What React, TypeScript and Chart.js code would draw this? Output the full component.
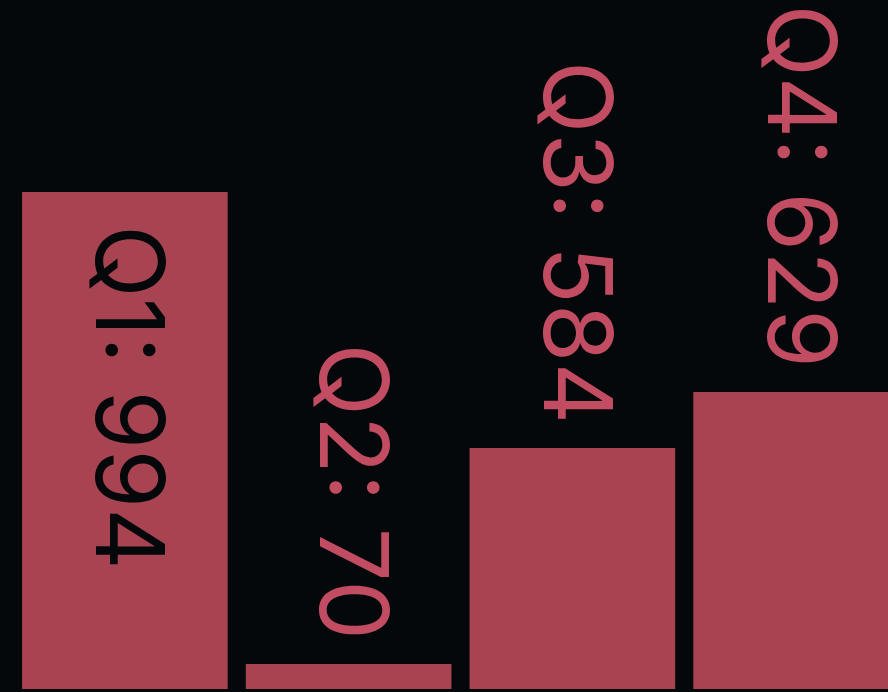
import React, { useEffect, useRef } from "react";
import { Chart, registerables } from "chart.js";

Chart.register(...registerables);

const categories = ["Q1", "Q2", "Q3", "Q4"];
// bar heights as drawn in the picture (same units as the Q1 value)
const barValues = [994, 50, 482, 594];
// values printed in the data labels
const labelValues = [994, 70, 584, 629];
const yMax = 1378;

const BG = "#04080b";
const BAR = "#a84452";
const LABEL_OUT = "#c24d63";
const LABEL_IN = "#04080b";
const FONT = "95px Inter, 'Liberation Sans', sans-serif";

const labelPlugin = {
  id: "rotLabels",
  afterDatasetsDraw(chart: any) {
    const ctx = chart.ctx;
    const meta = chart.getDatasetMeta(0);
    const area = chart.chartArea;
    ctx.save();
    ctx.font = FONT;
    ctx.textBaseline = "middle";
    meta.data.forEach((bar: any, i: number) => {
      const text = `${categories[i]}: ${labelValues[i]}`;
      const w = ctx.measureText(text).width;
      const gapOut = 24;
      const gapIn = 33;
      const top = bar.y;
      ctx.save();
      if (top - gapOut - w >= area.top) {
        ctx.translate(bar.x, top - gapOut);
        ctx.rotate(Math.PI / 2);
        ctx.textAlign = "right";
        ctx.fillStyle = LABEL_OUT;
      } else {
        ctx.translate(bar.x, top + gapIn);
        ctx.rotate(Math.PI / 2);
        ctx.textAlign = "left";
        ctx.fillStyle = LABEL_IN;
      }
      ctx.fillText(text, 0, 0);
      ctx.restore();
    });
    ctx.restore();
  },
};

export default function App() {
  const ref = useRef<HTMLCanvasElement | null>(null);
  useEffect(() => {
    if (!ref.current) return;
    const chart = new Chart(ref.current, {
      type: "bar",
      data: {
        labels: categories,
        datasets: [
          {
            data: barValues,
            backgroundColor: BAR,
            borderWidth: 0,
            barPercentage: 0.919,
            categoryPercentage: 1,
          },
        ],
      },
      options: {
        responsive: false,
        animation: false,
        layout: { padding: { left: 13, right: 0, top: 0, bottom: 3 } },
        plugins: { legend: { display: false }, tooltip: { enabled: false } },
        scales: {
          x: { display: false },
          y: { display: false, min: 0, max: yMax },
        },
      },
      plugins: [labelPlugin],
    });
    return () => chart.destroy();
  }, []);
  return (
    <div
      style={{
        position: "fixed",
        left: 0,
        top: 0,
        width: 888,
        height: 692,
        overflow: "hidden",
        background: BG,
      }}
    >
      <canvas ref={ref} width={908} height={692} style={{ display: "block" }} />
    </div>
  );
}
